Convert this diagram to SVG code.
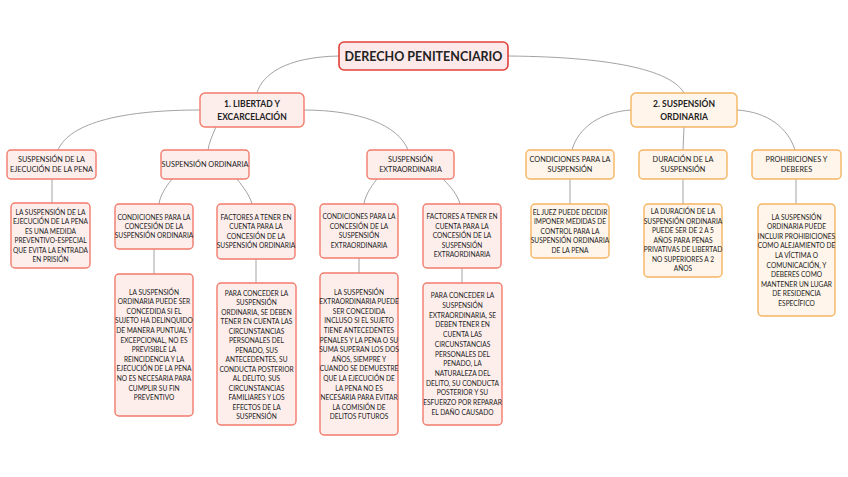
<svg xmlns="http://www.w3.org/2000/svg" width="848" height="477" viewBox="0 0 848 477">
<style>
text{font-family:Lato,"Open Sans","Liberation Sans",sans-serif;fill:#222;text-anchor:middle}
.root{fill:#fde9e9;stroke:#e2403a;stroke-width:1.6}
.p{fill:#fdeeec;stroke:#f27b6c;stroke-width:1.4}
.o{fill:#fff5ea;stroke:#f5b462;stroke-width:1.4}
.c{fill:none;stroke:#a3a3a3;stroke-width:1}
.t0{font-size:12.5px;font-weight:700}
.t1{font-size:8.5px;font-weight:700}
.t2{font-size:7.3px}
.t3{font-size:6.6px}
</style>
<rect width="848" height="477" fill="#ffffff"/>
<g id="connectors">
<path class="c" d="M339,56 C285,57 262,75 257,93"/>
<path class="c" d="M508,56 C620,57 672,72 684,93"/>
<path class="c" d="M200,110 C125,110 70,122 58,150"/>
<path class="c" d="M216,127 C212,136 209,143 208,150"/>
<path class="c" d="M303,110 C360,110 398,125 408,150"/>
<path class="c" d="M631,110 C600,112 578,128 572,150"/>
<path class="c" d="M684,127 L683,150"/>
<path class="c" d="M737,110 C768,112 788,128 795,150"/>
<path class="c" d="M52,179 L52,203"/>
<path class="c" d="M172,179 C165,188 160,196 159,204"/>
<path class="c" d="M237,179 C244,188 250,196 252,204"/>
<path class="c" d="M377,179 C370,188 365,196 364,204"/>
<path class="c" d="M443,179 C452,188 458,196 460,204"/>
<path class="c" d="M570,179 L570,204"/>
<path class="c" d="M683,179 L683,204"/>
<path class="c" d="M796,179 L796,204"/>
<path class="c" d="M154,249 L154,274"/>
<path class="c" d="M256,259 L256,283"/>
<path class="c" d="M359,258 L359,273"/>
<path class="c" d="M462,268 L462,283"/>
</g>
<g id="root">
<rect class="root" x="339" y="42" width="169" height="28" rx="5"/>
<text class="t0" x="423.5" y="60.5">DERECHO PENITENCIARIO</text>
</g>
<g id="n1">
<rect class="p" x="200" y="93" width="104" height="34" rx="5"/>
<text class="t1" x="252" y="107">1. LIBERTAD Y</text>
<text class="t1" x="252" y="120">EXCARCELACIÓN</text>
</g>
<g id="n2">
<rect class="o" x="631" y="93" width="106" height="34" rx="5"/>
<text class="t1" x="684" y="107">2. SUSPENSIÓN</text>
<text class="t1" x="684" y="120">ORDINARIA</text>
</g>
<g id="n1a">
<rect class="p" x="7" y="150" width="89" height="29" rx="4"/>
<text class="t2" x="51.5" y="162">SUSPENSIÓN DE LA</text>
<text class="t2" x="51.5" y="172">EJECUCIÓN DE LA PENA</text>
</g>
<g id="n1b">
<rect class="p" x="161" y="150" width="88" height="29" rx="4"/>
<text class="t2" x="205" y="167">SUSPENSIÓN ORDINARIA</text>
</g>
<g id="n1c">
<rect class="p" x="367" y="150" width="87" height="29" rx="4"/>
<text class="t2" x="410.5" y="162">SUSPENSIÓN</text>
<text class="t2" x="410.5" y="172">EXTRAORDINARIA</text>
</g>
<g id="n2a">
<rect class="o" x="526" y="150" width="88" height="29" rx="4"/>
<text class="t2" x="570" y="162">CONDICIONES PARA LA</text>
<text class="t2" x="570" y="172">SUSPENSIÓN</text>
</g>
<g id="n2b">
<rect class="o" x="639" y="150" width="88" height="29" rx="4"/>
<text class="t2" x="683" y="162">DURACIÓN DE LA</text>
<text class="t2" x="683" y="172">SUSPENSIÓN</text>
</g>
<g id="n2c">
<rect class="o" x="752" y="150" width="89" height="29" rx="4"/>
<text class="t2" x="796.5" y="162">PROHIBICIONES Y</text>
<text class="t2" x="796.5" y="172">DEBERES</text>
</g>
<g id="l1a">
<rect class="p" x="11" y="203" width="79" height="65" rx="4"/>
<text class="t3" x="50.5"><tspan x="50.5" y="214.5">LA SUSPENSIÓN DE LA</tspan><tspan x="50.5" dy="9.5">EJECUCIÓN DE LA PENA</tspan><tspan x="50.5" dy="9.5">ES UNA MEDIDA</tspan><tspan x="50.5" dy="9.5">PREVENTIVO-ESPECIAL</tspan><tspan x="50.5" dy="9.5">QUE EVITA LA ENTRADA</tspan><tspan x="50.5" dy="9.5">EN PRISIÓN</tspan></text>
</g>
<g id="c1">
<rect class="p" x="115" y="204" width="78" height="45" rx="4"/>
<text class="t3"><tspan x="154" y="219.5">CONDICIONES PARA LA</tspan><tspan x="154" dy="9">CONCESIÓN DE LA</tspan><tspan x="154" dy="9">SUSPENSIÓN ORDINARIA</tspan></text>
</g>
<g id="c2">
<rect class="p" x="217" y="204" width="78" height="55" rx="4"/>
<text class="t3"><tspan x="256" y="219.8">FACTORES A TENER EN</tspan><tspan x="256" dy="9.5">CUENTA PARA LA</tspan><tspan x="256" dy="9.5">CONCESIÓN DE LA</tspan><tspan x="256" dy="9.5">SUSPENSIÓN ORDINARIA</tspan></text>
</g>
<g id="c3">
<rect class="p" x="320" y="204" width="78" height="54" rx="4"/>
<text class="t3"><tspan x="359" y="219.3">CONDICIONES PARA LA</tspan><tspan x="359" dy="9.5">CONCESIÓN DE LA</tspan><tspan x="359" dy="9.5">SUSPENSIÓN</tspan><tspan x="359" dy="9.5">EXTRAORDINARIA</tspan></text>
</g>
<g id="c4">
<rect class="p" x="423" y="204" width="78" height="64" rx="4"/>
<text class="t3"><tspan x="462" y="219.3">FACTORES A TENER EN</tspan><tspan x="462" dy="9.5">CUENTA PARA LA</tspan><tspan x="462" dy="9.5">CONCESIÓN DE LA</tspan><tspan x="462" dy="9.5">SUSPENSIÓN</tspan><tspan x="462" dy="9.5">EXTRAORDINARIA</tspan></text>
</g>
<g id="d1">
<rect class="p" x="115" y="274" width="78" height="142" rx="4"/>
<text class="t3"><tspan x="154" y="294.5">LA SUSPENSIÓN</tspan><tspan x="154" dy="9.6">ORDINARIA PUEDE SER</tspan><tspan x="154" dy="9.6">CONCEDIDA SI EL</tspan><tspan x="154" dy="9.6">SUJETO HA DELINQUIDO</tspan><tspan x="154" dy="9.6">DE MANERA PUNTUAL Y</tspan><tspan x="154" dy="9.6">EXCEPCIONAL, NO ES</tspan><tspan x="154" dy="9.6">PREVISIBLE LA</tspan><tspan x="154" dy="9.6">REINCIDENCIA Y LA</tspan><tspan x="154" dy="9.6">EJECUCIÓN DE LA PENA</tspan><tspan x="154" dy="9.6">NO ES NECESARIA PARA</tspan><tspan x="154" dy="9.6">CUMPLIR SU FIN</tspan><tspan x="154" dy="9.6">PREVENTIVO</tspan></text>
</g>
<g id="d2">
<rect class="p" x="217" y="283" width="79" height="142" rx="4"/>
<text class="t3"><tspan x="256.5" y="295.5">PARA CONCEDER LA</tspan><tspan x="256.5" dy="9.5">SUSPENSIÓN</tspan><tspan x="256.5" dy="9.5">ORDINARIA, SE DEBEN</tspan><tspan x="256.5" dy="9.5">TENER EN CUENTA LAS</tspan><tspan x="256.5" dy="9.5">CIRCUNSTANCIAS</tspan><tspan x="256.5" dy="9.5">PERSONALES DEL</tspan><tspan x="256.5" dy="9.5">PENADO, SUS</tspan><tspan x="256.5" dy="9.5">ANTECEDENTES, SU</tspan><tspan x="256.5" dy="9.5">CONDUCTA POSTERIOR</tspan><tspan x="256.5" dy="9.5">AL DELITO, SUS</tspan><tspan x="256.5" dy="9.5">CIRCUNSTANCIAS</tspan><tspan x="256.5" dy="9.5">FAMILIARES Y LOS</tspan><tspan x="256.5" dy="9.5">EFECTOS DE LA</tspan><tspan x="256.5" dy="9.5">SUSPENSIÓN</tspan></text>
</g>
<g id="d3">
<rect class="p" x="320" y="273" width="78" height="162" rx="4"/>
<text class="t3"><tspan x="359" y="294.5">LA SUSPENSIÓN</tspan><tspan x="359" dy="9.6">EXTRAORDINARIA PUEDE</tspan><tspan x="359" dy="9.6">SER CONCEDIDA</tspan><tspan x="359" dy="9.6">INCLUSO SI EL SUJETO</tspan><tspan x="359" dy="9.6">TIENE ANTECEDENTES</tspan><tspan x="359" dy="9.6">PENALES Y LA PENA O SU</tspan><tspan x="359" dy="9.6">SUMA SUPERAN LOS DOS</tspan><tspan x="359" dy="9.6">AÑOS, SIEMPRE Y</tspan><tspan x="359" dy="9.6">CUANDO SE DEMUESTRE</tspan><tspan x="359" dy="9.6">QUE LA EJECUCIÓN DE</tspan><tspan x="359" dy="9.6">LA PENA NO ES</tspan><tspan x="359" dy="9.6">NECESARIA PARA EVITAR</tspan><tspan x="359" dy="9.6">LA COMISIÓN DE</tspan><tspan x="359" dy="9.6">DELITOS FUTUROS</tspan></text>
</g>
<g id="d4">
<rect class="p" x="423" y="283" width="79" height="142" rx="4"/>
<text class="t3"><tspan x="462.5" y="298.3">PARA CONCEDER LA</tspan><tspan x="462.5" dy="9.7">SUSPENSIÓN</tspan><tspan x="462.5" dy="9.7">EXTRAORDINARIA, SE</tspan><tspan x="462.5" dy="9.7">DEBEN TENER EN</tspan><tspan x="462.5" dy="9.7">CUENTA LAS</tspan><tspan x="462.5" dy="9.7">CIRCUNSTANCIAS</tspan><tspan x="462.5" dy="9.7">PERSONALES DEL</tspan><tspan x="462.5" dy="9.7">PENADO, LA</tspan><tspan x="462.5" dy="9.7">NATURALEZA DEL</tspan><tspan x="462.5" dy="9.7">DELITO, SU CONDUCTA</tspan><tspan x="462.5" dy="9.7">POSTERIOR Y SU</tspan><tspan x="462.5" dy="9.7">ESFUERZO POR REPARAR</tspan><tspan x="462.5" dy="9.7">EL DAÑO CAUSADO</tspan></text>
</g>
<g id="e1">
<rect class="o" x="531" y="204" width="78" height="54" rx="4"/>
<text class="t3"><tspan x="570" y="214.8">EL JUEZ PUEDE DECIDIR</tspan><tspan x="570" dy="9.5">IMPONER MEDIDAS DE</tspan><tspan x="570" dy="9.5">CONTROL PARA LA</tspan><tspan x="570" dy="9.5">SUSPENSIÓN ORDINARIA</tspan><tspan x="570" dy="9.5">DE LA PENA</tspan></text>
</g>
<g id="e2">
<rect class="o" x="644" y="204" width="78" height="73" rx="4"/>
<text class="t3"><tspan x="683" y="214.3">LA DURACIÓN DE LA</tspan><tspan x="683" dy="9.5">SUSPENSIÓN ORDINARIA</tspan><tspan x="683" dy="9.5">PUEDE SER DE 2 A 5</tspan><tspan x="683" dy="9.5">AÑOS PARA PENAS</tspan><tspan x="683" dy="9.5">PRIVATIVAS DE LIBERTAD</tspan><tspan x="683" dy="9.5">NO SUPERIORES A 2</tspan><tspan x="683" dy="9.5">AÑOS</tspan></text>
</g>
<g id="e3">
<rect class="o" x="758" y="204" width="77" height="112" rx="4"/>
<text class="t3"><tspan x="796.5" y="219.5">LA SUSPENSIÓN</tspan><tspan x="796.5" dy="9.6">ORDINARIA PUEDE</tspan><tspan x="796.5" dy="9.6">INCLUIR PROHIBICIONES</tspan><tspan x="796.5" dy="9.6">COMO ALEJAMIENTO DE</tspan><tspan x="796.5" dy="9.6">LA VÍCTIMA O</tspan><tspan x="796.5" dy="9.6">COMUNICACIÓN, Y</tspan><tspan x="796.5" dy="9.6">DEBERES COMO</tspan><tspan x="796.5" dy="9.6">MANTENER UN LUGAR</tspan><tspan x="796.5" dy="9.6">DE RESIDENCIA</tspan><tspan x="796.5" dy="9.6">ESPECÍFICO</tspan></text>
</g>
</svg>
